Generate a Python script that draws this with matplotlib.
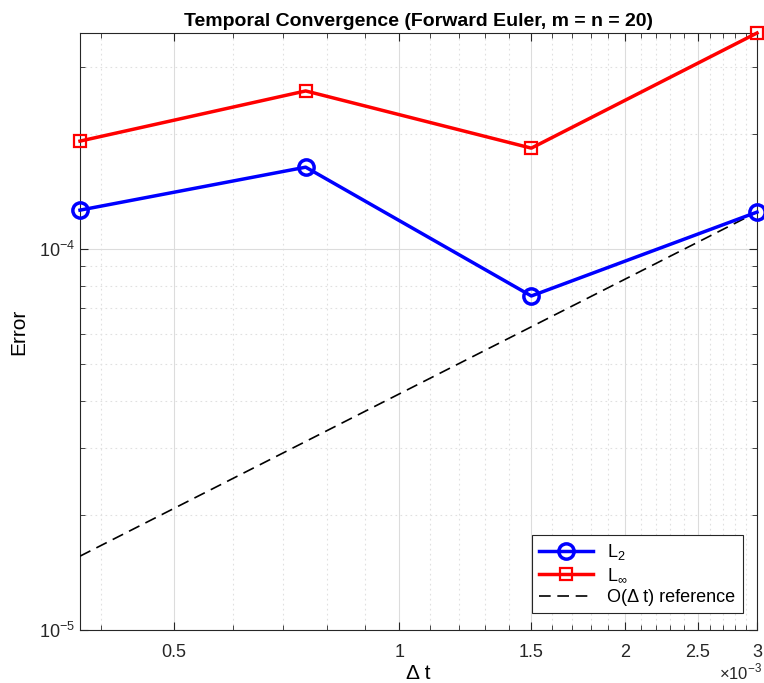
import numpy as np
import matplotlib
matplotlib.use('Agg')
import matplotlib.pyplot as plt
from matplotlib.ticker import FixedLocator, FuncFormatter, LogLocator, NullFormatter

# data
dt = [0.375e-3, 0.75e-3, 1.5e-3, 3e-3]
err_l2 = [1.265e-4, 1.64e-4, 7.53e-5, 1.25e-4]
err_linf = [1.92e-4, 2.60e-4, 1.84e-4, 3.69e-4]
x_ticks = [0.5e-3, 1e-3, 1.5e-3, 2e-3, 2.5e-3, 3e-3]
x_minor = [0.4e-3, 0.6e-3, 0.7e-3, 0.8e-3, 0.9e-3, 1.1e-3, 1.2e-3, 1.3e-3, 1.4e-3,
           1.6e-3, 1.7e-3, 1.8e-3, 1.9e-3, 2.1e-3, 2.2e-3, 2.3e-3, 2.4e-3,
           2.6e-3, 2.7e-3, 2.8e-3, 2.9e-3]

# O(dt) reference anchored at the last L2 point
ref = [err_l2[-1] * d / dt[-1] for d in dt]

plt.rcParams['font.family'] = ['Liberation Sans', 'DejaVu Sans']
plt.rcParams['mathtext.fontset'] = 'custom'
plt.rcParams['mathtext.rm'] = 'Liberation Sans'
plt.rcParams['axes.unicode_minus'] = False

fig = plt.figure(figsize=(7.64, 6.83), dpi=100)
ax = fig.add_axes([80 / 764, 53 / 683, 677 / 764, 597 / 683])

ax.loglog(dt, err_l2, '-o', color='#0000ff', linewidth=2.5, markersize=11,
          markerfacecolor='none', markeredgewidth=2.5, label='L$_2$', clip_on=False, zorder=4)
ax.loglog(dt, err_linf, '-s', color='#ff0000', linewidth=2.5, markersize=9,
          markerfacecolor='none', markeredgewidth=1.6, label=r'L$_\infty$', clip_on=False, zorder=4)
ax.loglog(dt, ref, '--', color='black', linewidth=1.2, dashes=(7, 4),
          label='O(Δ t) reference', zorder=3)

ax.set_xlim(dt[0], dt[-1])
ax.set_ylim(1e-5, 3.69e-4)

ax.xaxis.set_major_locator(FixedLocator(x_ticks))
ax.xaxis.set_minor_locator(FixedLocator(x_minor))
ax.xaxis.set_major_formatter(FuncFormatter(lambda v, p: f'{v * 1e3:g}'))
ax.xaxis.set_minor_formatter(NullFormatter())
ax.yaxis.set_major_locator(LogLocator(base=10))
ax.yaxis.set_minor_locator(LogLocator(base=10, subs=np.arange(2, 10)))
ax.yaxis.set_minor_formatter(NullFormatter())

ax.tick_params(which='both', direction='in', top=True, right=True, colors='#262626',
               labelsize=13)
ax.tick_params(which='major', length=6, width=0.8)
ax.tick_params(which='minor', length=3.5, width=0.6)
ax.tick_params(axis='x', pad=10)

ax.grid(True, which='major', color='#dcdcdc', linestyle='-', linewidth=0.8)
ax.grid(True, which='minor', color='#e0e0e0', linestyle=(0, (1.5, 3)), linewidth=0.8)
ax.set_axisbelow(True)
for s in ax.spines.values():
    s.set_color('#262626')
    s.set_linewidth(0.8)

ax.set_title('Temporal Convergence (Forward Euler, m = n = 20)', fontsize=14,
             fontweight='bold', pad=5)
ax.set_xlabel('Δ t', fontsize=15, labelpad=2)
ax.set_ylabel('Error', fontsize=15, labelpad=8)
fig.text(762 / 764, 1 - 672 / 683, '×10$^{-3}$', fontsize=12, ha='right', va='center',
         color='#262626')

leg = ax.legend(loc='lower right', fontsize=13, frameon=True, fancybox=False,
                edgecolor='#262626', framealpha=1, handlelength=3.0,
                borderpad=0.4, labelspacing=0.25, borderaxespad=0,
                bbox_to_anchor=(0.979, 0.028))
leg.get_frame().set_linewidth(0.8)

fig.savefig('out.png', dpi=100)
